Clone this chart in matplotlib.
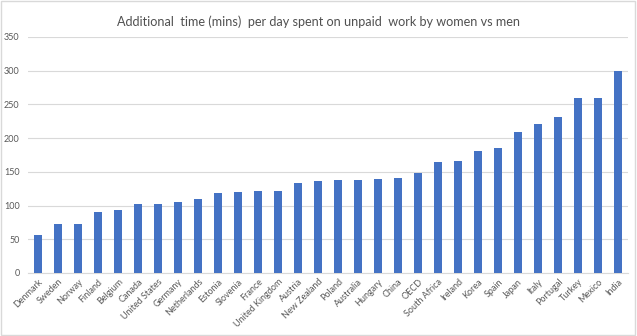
import matplotlib
matplotlib.use("Agg")
import matplotlib.pyplot as plt
from matplotlib.patches import Rectangle

countries = ["Denmark", "Sweden", "Norway", "Finland", "Belgium", "Canada",
             "United States", "Germany", "Netherlands", "Estonia", "Slovenia",
             "France", "United Kingdom", "Austria", "New Zealand", "Poland",
             "Australia", "Hungary", "China", "OECD", "South Africa", "Ireland",
             "Korea", "Spain", "Japan", "Italy", "Portugal", "Turkey", "Mexico",
             "India"]
minutes = [56, 72, 72, 90, 94, 102, 103, 105, 109, 118, 120, 121, 122, 133,
           136, 138, 138, 140, 141, 148, 165, 166, 181, 185, 209, 221, 231,
           260, 260, 300]
yticks = [0, 50, 100, 150, 200, 250, 300, 350]

plt.rcParams['font.family'] = ['Lato', 'DejaVu Sans']
text_col = '#595959'

fig = plt.figure(figsize=(6.37, 3.36), dpi=100)
ax = fig.add_axes([0.044, 0.1875, 0.942, 0.7025])

x = range(len(countries))
ax.bar(x, minutes, width=0.38, color='#4472C4', zorder=3)

ax.set_xlim(-0.5, len(countries) - 0.5)
ax.set_ylim(0, 350)
ax.set_yticks(yticks)
ax.set_xticks(list(x))
ax.set_xticklabels(countries, rotation=45, ha='right', rotation_mode='anchor',
                   fontsize=6.5, color=text_col)
ax.tick_params(axis='y', labelsize=6.5, labelcolor=text_col, length=0, pad=6)
ax.tick_params(axis='x', length=0, pad=3)
ax.grid(axis='y', color='#d9d9d9', linewidth=0.8, zorder=0)

for s in ['top', 'right', 'left']:
    ax.spines[s].set_visible(False)
ax.spines['bottom'].set_color('#d9d9d9')

fig.suptitle('Additional  time (mins)  per day spent on unpaid  work by women vs men',
             y=0.955, fontsize=9.1, color='#505050')

# light chart border like the spreadsheet export
fig.patches.append(Rectangle((0.002, 0.003), 0.995, 0.994, transform=fig.transFigure,
                             fill=False, edgecolor='#d9d9d9', linewidth=1))

plt.savefig('out.png', dpi=100)
